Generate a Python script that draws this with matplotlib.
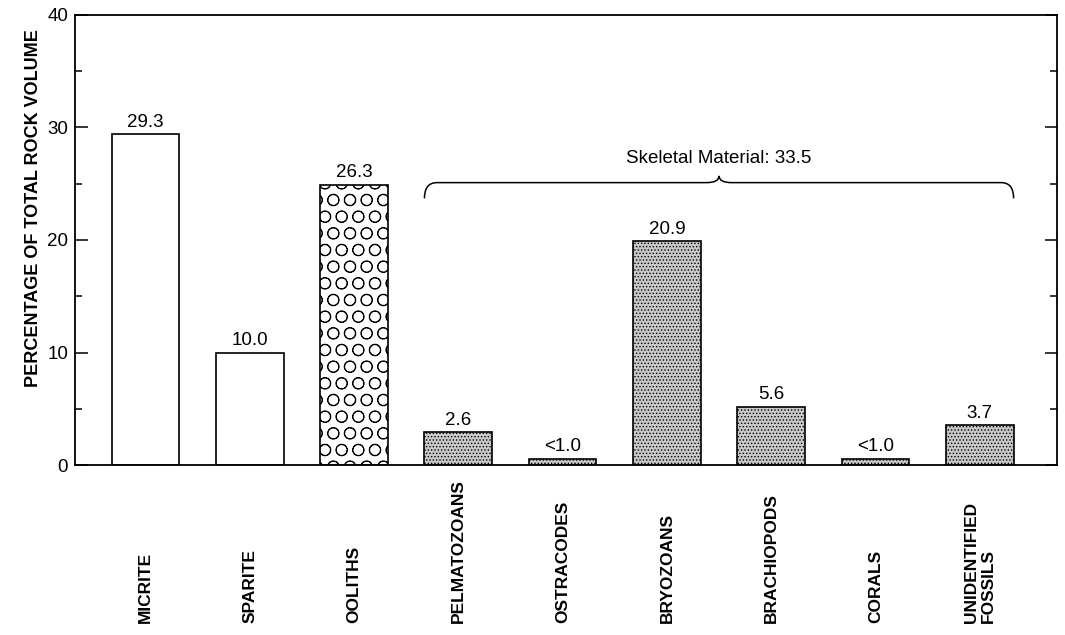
import numpy as np
import matplotlib
matplotlib.use("Agg")
import matplotlib.pyplot as plt
from matplotlib.path import Path
from matplotlib.patches import PathPatch

plt.rcParams['font.family'] = ['Liberation Sans', 'DejaVu Sans']
plt.rcParams['hatch.linewidth'] = 0.6

categories = ['MICRITE', 'SPARITE', 'OOLITHS', 'PELMATOZOANS', 'OSTRACODES',
              'BRYOZOANS', 'BRACHIOPODS', 'CORALS', 'UNIDENTIFIED\nFOSSILS']
# bar heights as drawn in the figure
heights = [29.4, 10.0, 24.9, 2.9, 0.55, 19.9, 5.2, 0.55, 3.55]
value_labels = ['29.3', '10.0', '26.3', '2.6', '<1.0', '20.9', '5.6', '<1.0', '3.7']
fills = ['plain', 'plain', 'oolith', 'skeletal', 'skeletal', 'skeletal',
         'skeletal', 'skeletal', 'skeletal']
skeletal_label = 'Skeletal Material: 33.5'

fig = plt.figure(figsize=(10.65, 6.35), dpi=100)
ax = fig.add_axes([0.0704, 0.2677, 0.922, 0.7087])

x = np.arange(len(categories))
w = 0.65
for i in range(len(categories)):
    if fills[i] == 'plain':
        ax.bar(x[i], heights[i], w, color='white', edgecolor='black', linewidth=1.2)
    elif fills[i] == 'oolith':
        ax.bar(x[i], heights[i], w, color='white', edgecolor='black', linewidth=1.2,
               hatch='O')
    else:
        ax.bar(x[i], heights[i], w, color='#c8c8c8', edgecolor='black', linewidth=1.2,
               hatch='.....')
    ax.text(x[i], heights[i] + 0.3, value_labels[i], ha='center', va='bottom',
            fontsize=13.5)

# brace over the skeletal bars
x0 = 3 - w / 2
x1 = 8 + w / 2
xm = (x0 + x1) / 2
yb = 25.1
dx = 0.12
dy = 1.4
tip = 0.6
verts = [(x0, yb - dy), (x0, yb), (x0 + dx, yb),
         (xm - dx, yb), (xm, yb), (xm, yb + tip),
         (xm, yb), (xm + dx, yb),
         (x1 - dx, yb), (x1, yb), (x1, yb - dy)]
codes = [Path.MOVETO, Path.CURVE3, Path.CURVE3,
         Path.LINETO, Path.CURVE3, Path.CURVE3,
         Path.CURVE3, Path.CURVE3,
         Path.LINETO, Path.CURVE3, Path.CURVE3]
ax.add_patch(PathPatch(Path(verts, codes), fill=False, lw=1.1, color='black'))
ax.text(xm, yb + 2.1, skeletal_label, ha='center', va='center', fontsize=13.5)

ax.set_xlim(-0.676, 8.74)
ax.set_ylim(0, 40)
ax.set_yticks([0, 10, 20, 30, 40])
ax.set_yticks([5, 15, 25, 35], minor=True)
ax.set_xticks([])
ax.tick_params(axis='y', which='both', direction='in', right=True, labelsize=13.5,
               width=1.1, pad=5)
ax.tick_params(axis='y', which='major', length=9)
ax.tick_params(axis='y', which='minor', length=5)
for s in ax.spines.values():
    s.set_linewidth(1.3)

ax.set_ylabel('PERCENTAGE OF TOTAL ROCK VOLUME', fontsize=13, fontweight='bold')
ax.yaxis.set_label_coords(-0.034, 0.571)

trans = ax.get_xaxis_transform()
for i in range(len(categories)):
    ax.text(x[i], -0.351, categories[i], rotation=90, ha='center', va='bottom',
            multialignment='left', fontsize=12.5, fontweight='bold', transform=trans)

fig.savefig('out.png', dpi=100)
